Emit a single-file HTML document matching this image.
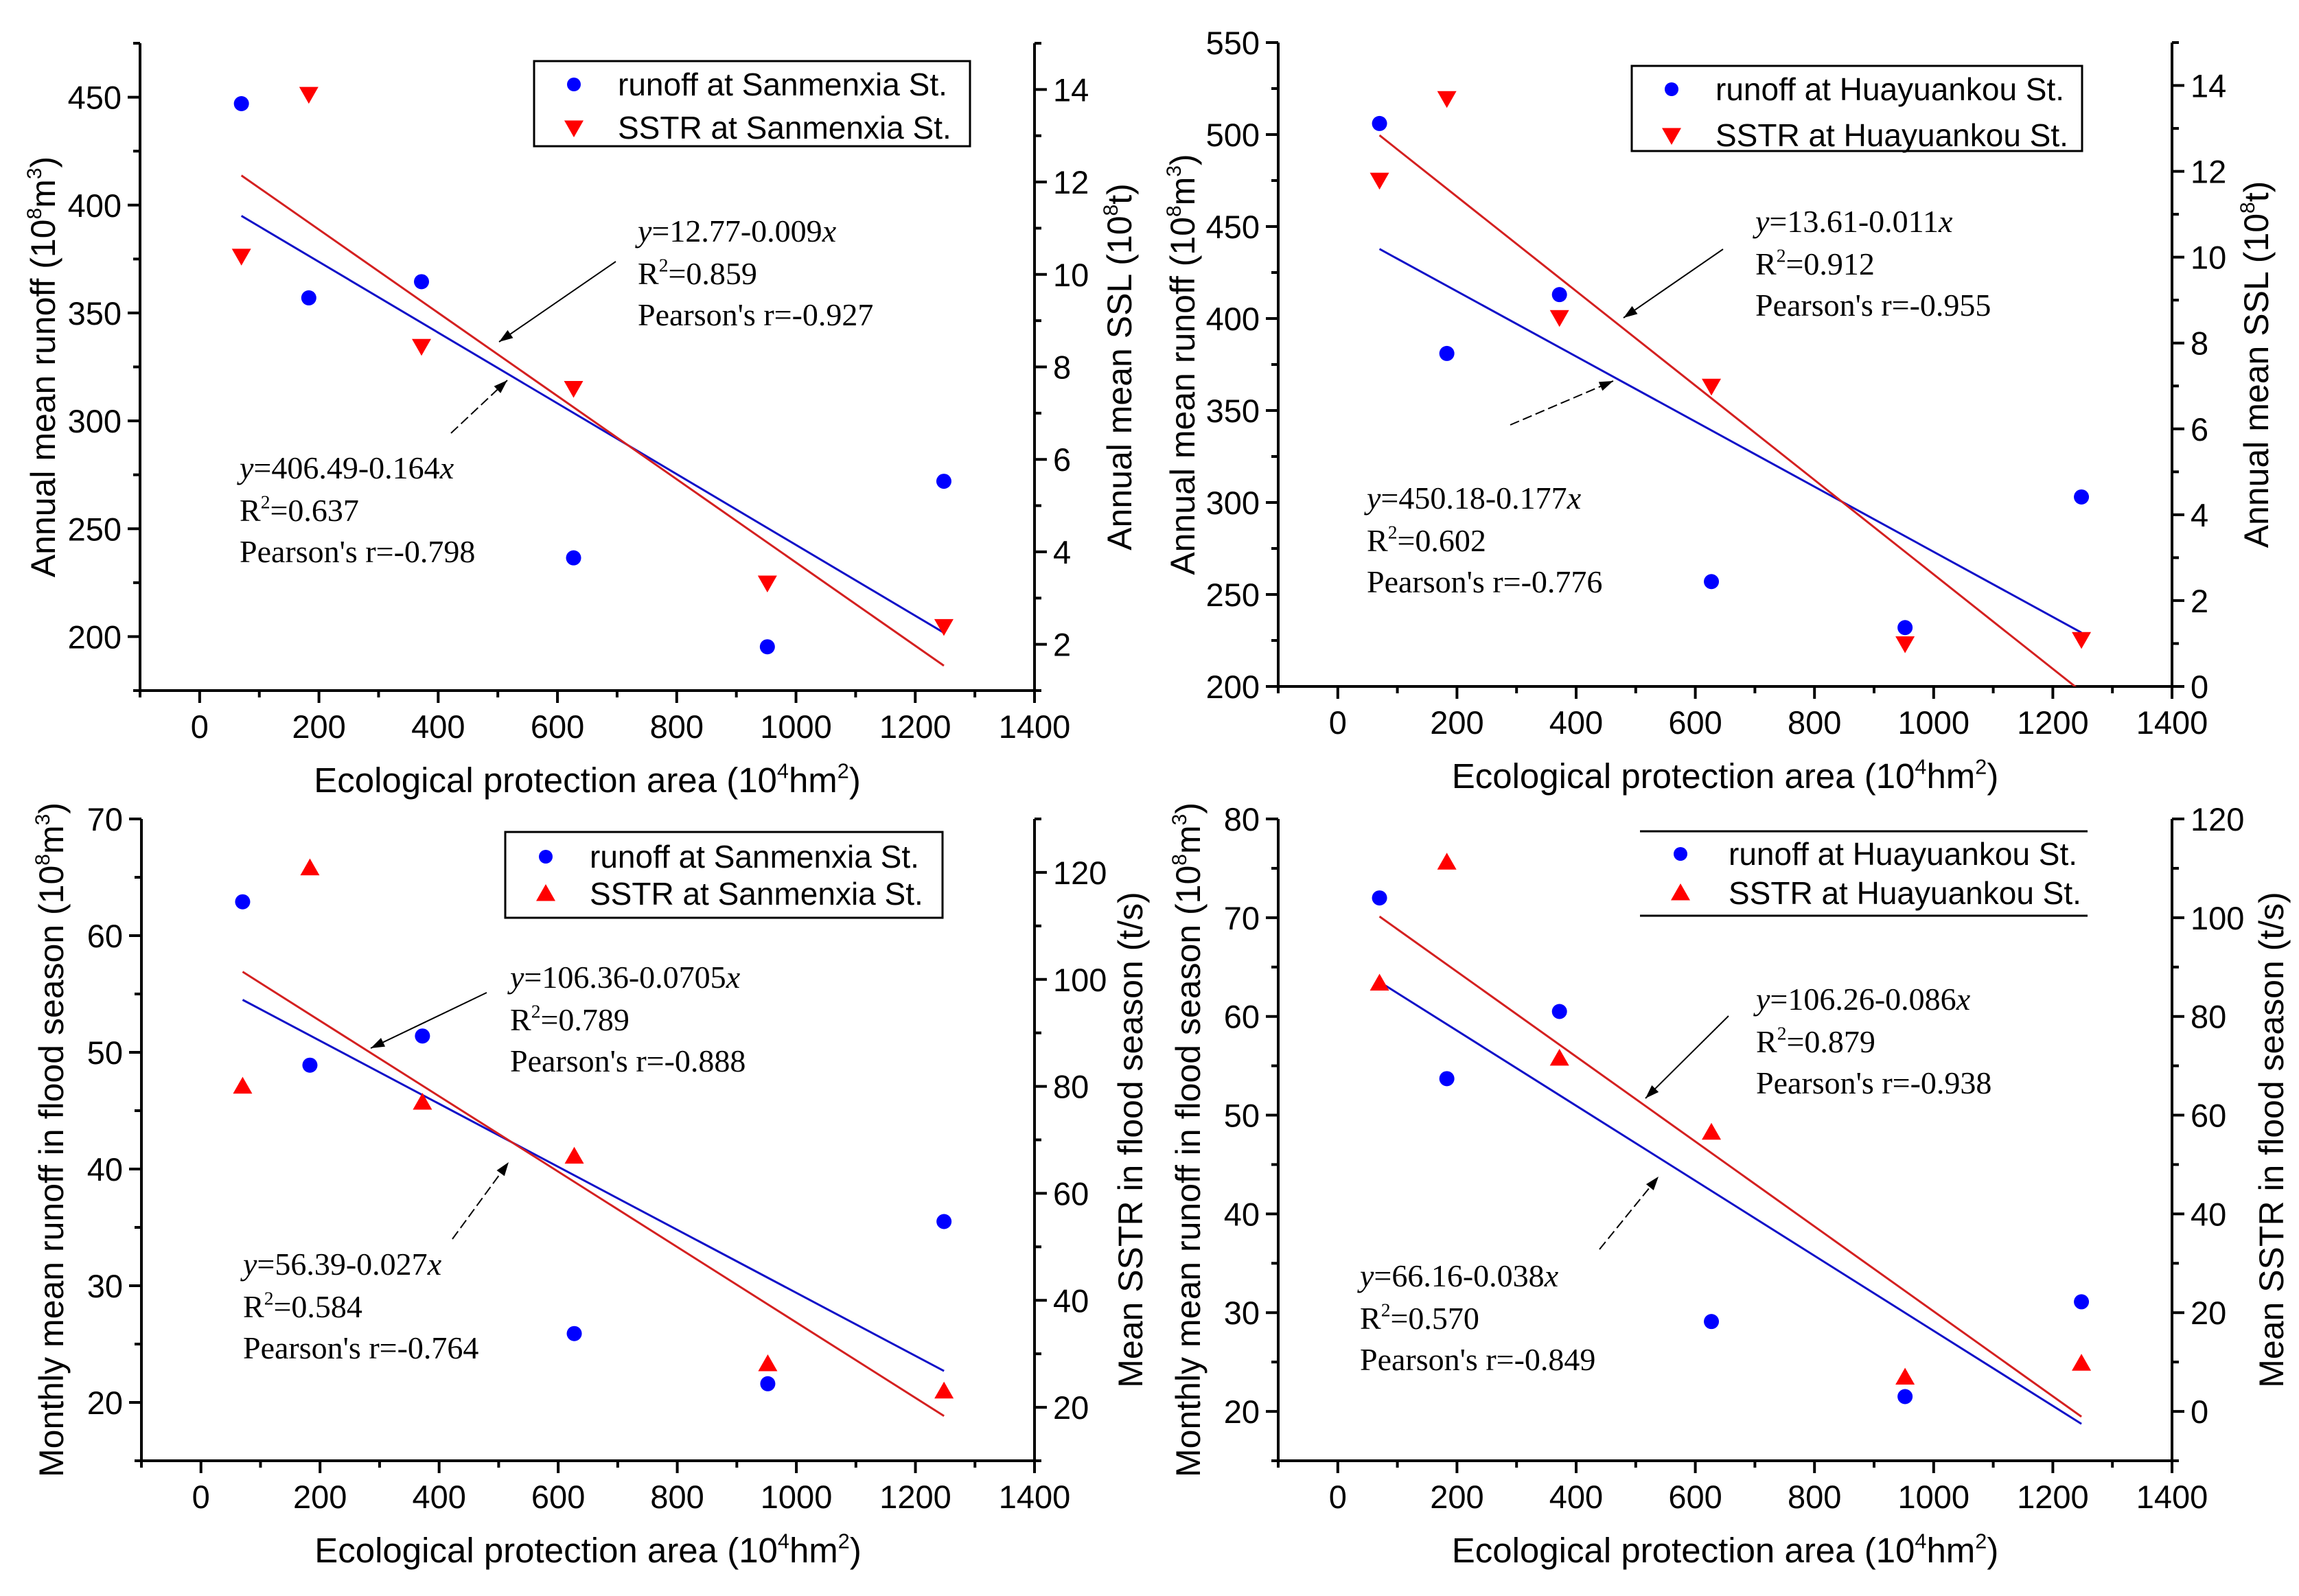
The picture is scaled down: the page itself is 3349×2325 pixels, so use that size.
<!DOCTYPE html>
<html><head><meta charset="utf-8"><style>
html,body{margin:0;padding:0;background:#fff;}
svg{display:block;}
text{font-family:"Liberation Sans",sans-serif;fill:#000;}
.ser{font-family:"Liberation Serif",serif;}
</style></head><body>
<svg id="fig" width="3349" height="2325" viewBox="0 0 3349 2325" xmlns="http://www.w3.org/2000/svg"></svg>
<script>
const xValues = [70, 183, 372, 627, 952, 1248];
const xTicks = [0, 200, 400, 600, 800, 1000, 1200, 1400];
// Panel 1 (Sanmenxia annual)
const p1Runoff = [447, 357, 364.5, 236.5, 195.3, 272];
const p1Sed = [10.4, 13.9, 8.45, 7.54, 3.33, 2.39];
const p1FitRunoff = [406.49, -0.164];
const p1FitSed = [12.77, -0.009];
const p1LeftTicks = [200, 250, 300, 350, 400, 450];
const p1RightTicks = [2, 4, 6, 8, 10, 12, 14];
// Panel 2 (Huayuankou annual)
const p2Runoff = [506, 381, 413, 257, 232, 303];
const p2Sed = [11.8, 13.7, 8.6, 7.0, 1.0, 1.1];
const p2FitRunoff = [450.18, -0.177];
const p2FitSed = [13.61, -0.011];
const p2LeftTicks = [200, 250, 300, 350, 400, 450, 500, 550];
const p2RightTicks = [0, 2, 4, 6, 8, 10, 12, 14];
// Panel 3 (Sanmenxia flood season)
const p3Runoff = [62.9, 48.9, 51.4, 25.9, 21.6, 35.5];
const p3Sed = [80, 120.8, 77, 66.9, 28.1, 23];
const p3FitRunoff = [56.39, -0.027];
const p3FitSed = [106.36, -0.0705];
const p3LeftTicks = [20, 30, 40, 50, 60, 70];
const p3RightTicks = [20, 40, 60, 80, 100, 120];
// Panel 4 (Huayuankou flood season)
const p4Runoff = [72.0, 53.7, 60.5, 29.1, 21.5, 31.1];
const p4Sed = [86.7, 111.2, 71.5, 56.5, 6.9, 9.7];
const p4FitRunoff = [66.16, -0.038];
const p4FitSed = [106.26, -0.086];
const p4LeftTicks = [20, 30, 40, 50, 60, 70, 80];
const p4RightTicks = [0, 20, 40, 60, 80, 100, 120];

const NS = "http://www.w3.org/2000/svg";
const svg = document.getElementById('fig');
function mk(tag, attrs, parent) {
  const e = document.createElementNS(NS, tag);
  for (const k in attrs) e.setAttribute(k, attrs[k]);
  (parent || svg).appendChild(e);
  return e;
}
function richText(parent, x, y, parts, size, extra) {
  const t = mk('text', Object.assign({x: x, y: y, 'font-size': size}, extra || {}), parent);
  parts.forEach(p => {
    const s = mk('tspan', {}, t);
    if (p.sup) { s.setAttribute('dy', -size * 0.4); s.setAttribute('font-size', size * 0.6); }
    else if (p.after) { s.setAttribute('dy', size * 0.4); }
    if (p.it) s.setAttribute('font-style', 'italic');
    s.textContent = p.t;
  });
  return t;
}

function drawPanel(id, ox, oy, w, h, leftDom, rightDom, leftTicks, rightTicks, runoff, sed, fitR, fitS, triDown,
                   leftTitle, rightTitle, leftTitleX, rightTitleX, legendCfg, ann1, ann2, arrow1, arrow2) {
  const g = mk('g', {});
  
  
  const xs = v => ox + (v + 100) / 1500 * w;
  const yl = v => oy + h - (v - leftDom[0]) / (leftDom[1] - leftDom[0]) * h;
  const yr = v => oy + h - (v - rightDom[0]) / (rightDom[1] - rightDom[0]) * h;
  const clipId = id + '-clip';
  const cp = mk('clipPath', {id: clipId}, g);
  mk('rect', {x: ox, y: oy, width: w, height: h}, cp);

  const axes = mk('g', {stroke: '#000', 'stroke-width': 4, fill: 'none'}, g);
  
  
  mk('line', {x1: ox, y1: oy, x2: ox, y2: oy + h + 2}, axes);
  mk('line', {x1: ox + w, y1: oy, x2: ox + w, y2: oy + h + 2}, axes);
  mk('line', {x1: ox - 2, y1: oy + h, x2: ox + w + 2, y2: oy + h}, axes);
  for (let v = -100; v <= 1400; v += 100) {
    const major = v % 200 === 0;
    mk('line', {x1: xs(v), y1: oy + h, x2: xs(v), y2: oy + h + (major ? 18 : 10)}, axes);
  }
  xTicks.forEach(v => {
    const t = mk('text', {x: xs(v), y: oy + h + 69, 'font-size': 47, 'text-anchor': 'middle'}, g);
    
    
    t.textContent = v;
  });
  const lstep = leftTicks[1] - leftTicks[0];
  for (let v = leftTicks[0] - lstep; v <= leftDom[1] + 1e-9; v += lstep / 2) {
    if (v < leftDom[0] - 1e-9) continue;
    const major = Math.abs(((v - leftTicks[0]) / lstep) - Math.round((v - leftTicks[0]) / lstep)) < 1e-6;
    mk('line', {x1: ox, y1: yl(v), x2: ox - (major ? 18 : 10), y2: yl(v)}, axes);
  }
  leftTicks.forEach(v => {
    const t = mk('text', {x: ox - 27, y: yl(v) + 17, 'font-size': 47, 'text-anchor': 'end'}, g);
    
    
    t.textContent = v;
  });
  const rstep = rightTicks[1] - rightTicks[0];
  for (let v = rightTicks[0] - rstep; v <= rightDom[1] + 1e-9; v += rstep / 2) {
    if (v < rightDom[0] - 1e-9) continue;
    const major = Math.abs(((v - rightTicks[0]) / rstep) - Math.round((v - rightTicks[0]) / rstep)) < 1e-6;
    mk('line', {x1: ox + w, y1: yr(v), x2: ox + w + (major ? 18 : 10), y2: yr(v)}, axes);
  }
  rightTicks.forEach(v => {
    const t = mk('text', {x: ox + w + 27, y: yr(v) + 17, 'font-size': 47, 'text-anchor': 'start'}, g);
    
    
    t.textContent = v;
  });
  const xt = richText(g, ox + w / 2, oy + h + 148, [{t: 'Ecological protection area (10'}, {t: '4', sup: true}, {t: 'hm', after: true}, {t: '2', sup: true}, {t: ')', after: true}], 51, {'text-anchor': 'middle'});
  
  
  const lt = richText(g, 0, 0, leftTitle, 50, {'text-anchor': 'middle', transform: `translate(${leftTitleX},${oy + h / 2}) rotate(-90)`});
  
  
  const rt = richText(g, 0, 0, rightTitle, 50, {'text-anchor': 'middle', transform: `translate(${rightTitleX},${oy + h / 2}) rotate(-90)`});
  
  

  const x0 = xValues[0], x1 = xValues[xValues.length - 1];
  const fr = mk('line', {x1: xs(x0), y1: yl(fitR[0] + fitR[1] * x0), x2: xs(x1), y2: yl(fitR[0] + fitR[1] * x1), stroke: '#1010c8', 'stroke-width': 3, 'clip-path': `url(#${clipId})`}, g);
  
  
  const fs = mk('line', {x1: xs(x0), y1: yr(fitS[0] + fitS[1] * x0), x2: xs(x1), y2: yr(fitS[0] + fitS[1] * x1), stroke: '#d42020', 'stroke-width': 3, 'clip-path': `url(#${clipId})`}, g);
  
  

  function tri(cx, cy, down) {
    const s = 14;
    return down ? `${cx - s},${cy - s * 0.75} ${cx + s},${cy - s * 0.75} ${cx},${cy + s}` : `${cx - s},${cy + s * 0.75} ${cx + s},${cy + s * 0.75} ${cx},${cy - s}`;
  }
  xValues.forEach((xv, i) => {
    const c = mk('circle', {cx: xs(xv), cy: yl(runoff[i]), r: 11, fill: '#0000ff'}, g);
    
    
    const p = mk('polygon', {points: tri(xs(xv), yr(sed[i]), triDown), fill: '#ff0000'}, g);
    
    
  });

  const L = legendCfg;
  const lg = mk('g', {}, g);
  
  
  if (L.box) mk('rect', {x: ox + L.x1, y: oy + L.y1, width: L.x2 - L.x1, height: L.y2 - L.y1, fill: '#fff', stroke: '#000', 'stroke-width': 3}, lg);
  else {
    mk('line', {x1: ox + L.x1, y1: oy + L.y1, x2: ox + L.x2, y2: oy + L.y1, stroke: '#000', 'stroke-width': 3}, lg);
    mk('line', {x1: ox + L.x1, y1: oy + L.y2, x2: ox + L.x2, y2: oy + L.y2, stroke: '#000', 'stroke-width': 3}, lg);
  }
  mk('circle', {cx: ox + L.mx, cy: oy + L.r1, r: 10, fill: '#0000ff'}, lg);
  mk('polygon', {points: tri(ox + L.mx, oy + L.r2, triDown), fill: '#ff0000'}, lg);
  const le1 = mk('text', {x: ox + L.tx, y: oy + L.r1 + 16, 'font-size': 46}, lg);
  
  
  le1.textContent = L.t1;
  const le2 = mk('text', {x: ox + L.tx, y: oy + L.r2 + 16, 'font-size': 46}, lg);
  
  
  le2.textContent = L.t2;

  [ann1, ann2].forEach((a, k) => {
    const ag = mk('g', {class: 'ser'}, g);
    
    
    richText(ag, ox + a.x, oy + a.y, [{t: 'y', it: true}, {t: '=' + a.eq}, {t: 'x', it: true}], 46, {class: 'ser'});
    richText(ag, ox + a.x, oy + a.y + 62, [{t: 'R'}, {t: '2', sup: true}, {t: '=' + a.r2, after: true}], 46, {class: 'ser'});
    richText(ag, ox + a.x, oy + a.y + 122, [{t: "Pearson's r=" + a.pr}], 46, {class: 'ser'});
  });
  [arrow1, arrow2].forEach((a, k) => {
    const ln = mk('line', {x1: ox + a[0], y1: oy + a[1], x2: ox + a[2], y2: oy + a[3], stroke: '#000', 'stroke-width': 2, 'stroke-dasharray': k === 1 ? '14,6' : 'none'}, g);
    
    
    const ang = Math.atan2(a[3] - a[1], a[2] - a[0]);
    const hx = ox + a[2], hy = oy + a[3], L2 = 20, W = 7;
    const bx = hx - L2 * Math.cos(ang), by = hy - L2 * Math.sin(ang);
    mk('polygon', {points: `${hx},${hy} ${bx - W * Math.sin(ang)},${by + W * Math.cos(ang)} ${bx + W * Math.sin(ang)},${by - W * Math.cos(ang)}`, fill: '#000'}, g);
  });
}

const runoffTitle = [{t: 'Annual mean runoff (10'}, {t: '8', sup: true}, {t: 'm', after: true}, {t: '3', sup: true}, {t: ')', after: true}];
const sslTitle = [{t: 'Annual mean SSL (10'}, {t: '8', sup: true}, {t: 't)', after: true}];
const monthlyTitle = [{t: 'Monthly mean runoff in flood season (10'}, {t: '8', sup: true}, {t: 'm', after: true}, {t: '3', sup: true}, {t: ')', after: true}];
const sstrTitle = [{t: 'Mean SSTR in flood season (t/s)'}];

drawPanel('panel-sanmenxia-annual', 204, 63, 1303, 943, [175, 475], [1, 15], p1LeftTicks, p1RightTicks, p1Runoff, p1Sed, p1FitRunoff, p1FitSed, true,
  runoffTitle, sslTitle, 80, 1648,
  {box: true, x1: 574, y1: 26, x2: 1209, y2: 150, mx: 632, tx: 696, r1: 60, r2: 123, t1: 'runoff at Sanmenxia St.', t2: 'SSTR at Sanmenxia St.'},
  {x: 725, y: 289, eq: '12.77-0.009', r2: '0.859', pr: '-0.927'},
  {x: 145, y: 634, eq: '406.49-0.164', r2: '0.637', pr: '-0.798'},
  [693, 318, 523, 435], [453, 568, 535, 491]);

drawPanel('panel-huayuankou-annual', 1862, 62, 1302, 938, [200, 550], [0, 15], p2LeftTicks, p2RightTicks, p2Runoff, p2Sed, p2FitRunoff, p2FitSed, true,
  runoffTitle, sslTitle, 1740, 3304,
  {box: true, x1: 515, y1: 34, x2: 1171, y2: 158, mx: 573, tx: 637, r1: 68, r2: 135, t1: 'runoff at Huayuankou St.', t2: 'SSTR at Huayuankou St.'},
  {x: 695, y: 276, eq: '13.61-0.011', r2: '0.912', pr: '-0.955'},
  {x: 129, y: 679, eq: '450.18-0.177', r2: '0.602', pr: '-0.776'},
  [648, 301, 503, 401], [338, 557, 488, 493]);

drawPanel('panel-sanmenxia-flood', 206, 1193, 1301, 935, [15, 70], [10, 130], p3LeftTicks, p3RightTicks, p3Runoff, p3Sed, p3FitRunoff, p3FitSed, false,
  monthlyTitle, sstrTitle, 92, 1664,
  {box: true, x1: 530, y1: 19, x2: 1167, y2: 144, mx: 589, tx: 653, r1: 55, r2: 109, t1: 'runoff at Sanmenxia St.', t2: 'SSTR at Sanmenxia St.'},
  {x: 537, y: 246, eq: '106.36-0.0705', r2: '0.789', pr: '-0.888'},
  {x: 148, y: 664, eq: '56.39-0.027', r2: '0.584', pr: '-0.764'},
  [503, 253, 334, 334], [453, 612, 535, 500]);

drawPanel('panel-huayuankou-flood', 1862, 1193, 1302, 935, [15, 80], [-10, 120], p4LeftTicks, p4RightTicks, p4Runoff, p4Sed, p4FitRunoff, p4FitSed, false,
  monthlyTitle, sstrTitle, 1748, 3326,
  {box: false, x1: 527, y1: 18, x2: 1179, y2: 141, mx: 586, tx: 656, r1: 51, r2: 108, t1: 'runoff at Huayuankou St.', t2: 'SSTR at Huayuankou St.'},
  {x: 696, y: 278, eq: '106.26-0.086', r2: '0.879', pr: '-0.938'},
  {x: 119, y: 681, eq: '66.16-0.038', r2: '0.570', pr: '-0.849'},
  [656, 287, 535, 407], [468, 627, 554, 521]);
</script>
</body></html>
